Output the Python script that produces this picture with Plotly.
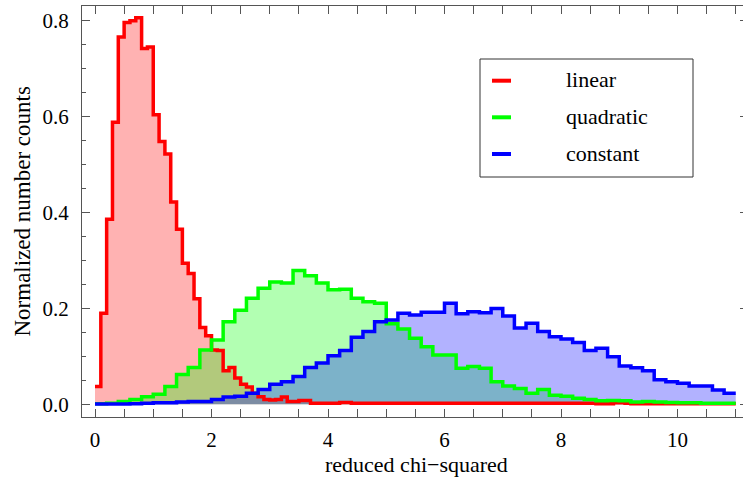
import numpy as np
import plotly.graph_objects as go

# ---------------- data ----------------
series_names = ["linear", "quadratic", "constant"]

linear_bin_width = 0.1
linear_counts = [
    0.037, 0.190, 0.386, 0.588, 0.766, 0.796, 0.800, 0.806, 0.742, 0.745,
    0.604, 0.548, 0.522, 0.422, 0.365, 0.294, 0.273, 0.220, 0.160, 0.143,
    0.113, 0.112, 0.070, 0.077, 0.055, 0.042, 0.036, 0.023, 0.016, 0.010,
    0.009, 0.010, 0.015, 0.006, 0.006, 0.008, 0.008, 0.002, 0.002, 0.002,
    0.002, 0.002, 0.004, 0.004, 0.002, 0.002, 0.002, 0.002, 0.002, 0.002,
    0.002, 0.002, 0.002, 0.002, 0.002, 0.002, 0.002, 0.002, 0.002, 0.002,
    0.002, 0.002, 0.002, 0.002, 0.002, 0.002, 0.002, 0.002, 0.002, 0.002,
    0.002, 0.002, 0.002, 0.002, 0.002, 0.002, 0.002, 0.002, 0.002, 0.002,
    0.002, 0.002, 0.002, 0.002, 0.002, 0.002, 0.001, 0.001, 0.001, 0.003,
    0.003, 0.002, 0.001, 0.001, 0.001, 0.001, 0.001, 0.001, 0.001, 0.001,
    0.001, 0.001, 0.001, 0.001, 0.001, 0.001, 0.001, 0.001, 0.001, 0.001,
]

quadratic_bin_width = 0.2
quadratic_counts = [
    0.001, 0.002, 0.006, 0.010, 0.016, 0.021, 0.037, 0.062, 0.077, 0.113,
    0.134, 0.172, 0.196, 0.221, 0.242, 0.255, 0.253, 0.279, 0.268, 0.253,
    0.239, 0.240, 0.221, 0.214, 0.211, 0.168, 0.157, 0.138, 0.120, 0.103,
    0.103, 0.075, 0.079, 0.075, 0.047, 0.038, 0.033, 0.023, 0.031, 0.019,
    0.017, 0.0125, 0.010, 0.0075, 0.008, 0.0075, 0.005, 0.006, 0.005, 0.004,
    0.003, 0.003, 0.002, 0.002, 0.002,
]

constant_bin_width = 0.2
constant_counts = [
    0.0005, 0.0005, 0.0005, 0.001, 0.002, 0.003, 0.003, 0.005, 0.006, 0.006,
    0.010, 0.015, 0.017, 0.023, 0.031, 0.042, 0.047, 0.058, 0.077, 0.086,
    0.101, 0.112, 0.140, 0.152, 0.172, 0.176, 0.190, 0.186, 0.192, 0.192,
    0.211, 0.189, 0.193, 0.191, 0.200, 0.184, 0.159, 0.169, 0.152, 0.141,
    0.136, 0.129, 0.112, 0.117, 0.099, 0.080, 0.076, 0.070, 0.051, 0.047,
    0.044, 0.038, 0.038, 0.030, 0.023,
]

x_tick_values = [0, 2, 4, 6, 8, 10]
x_tick_labels = ["0", "2", "4", "6", "8", "10"]
y_tick_values = [0.0, 0.2, 0.4, 0.6, 0.8]
y_tick_labels = ["0.0", "0.2", "0.4", "0.6", "0.8"]

x_title = "reduced chi\u2212squared"
y_title = "Normalized number counts"

# ---------------- styling ----------------
line_colors = ["rgb(255,0,0)", "rgb(0,255,0)", "rgb(0,0,255)"]
fill_colors = ["rgba(255,0,0,0.3)", "rgba(0,255,0,0.3)", "rgba(0,0,255,0.3)"]
FONT = "Liberation Serif"
FRAME = "#555555"

W, H = 743, 477
ML, MR, MT, MB = 82, 0, 6, 60
PW, PH = W - ML - MR, H - MT - MB


def paper(px, py):
    return (px - ML) / PW, (H - MB - py) / PH


def step_xy(counts, width):
    edges = np.arange(len(counts) + 1) * width
    xs = list(edges[:-1]) + [edges[-1]]
    ys = list(counts) + [counts[-1]]
    return xs, ys


series = [
    (linear_counts, linear_bin_width),
    (quadratic_counts, quadratic_bin_width),
    (constant_counts, constant_bin_width),
]

fig = go.Figure()

# fills first
for (counts, width), name, fc in zip(series, series_names, fill_colors):
    xs, ys = step_xy(counts, width)
    fig.add_trace(go.Scatter(
        x=xs, y=ys, mode="lines", name=name, showlegend=False,
        line=dict(width=0, shape="hv", color=fc),
        fill="tozeroy", fillcolor=fc, hoverinfo="skip",
    ))

# lines on top
for (counts, width), name, lc in zip(series, series_names, line_colors):
    xs, ys = step_xy(counts, width)
    fig.add_trace(go.Scatter(
        x=xs, y=ys, mode="lines", name=name, showlegend=False,
        line=dict(width=3.5, shape="hv", color=lc),
    ))

# axis ranges (px calibrated)
x_unit = 58.25
x0_px = 95.0
xmin = -(x0_px - ML) / x_unit
xmax = xmin + PW / x_unit
y_unit = 479.5
y0_px = 404.3
ymin = -((H - MB) - y0_px) / y_unit
ymax = ymin + PH / y_unit

fig.update_layout(
    width=W, height=H,
    margin=dict(l=ML, r=MR, t=MT, b=MB, pad=0),
    paper_bgcolor="white", plot_bgcolor="white",
    font=dict(family=FONT, size=21, color="black"),
    showlegend=False,
    xaxis=dict(
        range=[xmin, xmax], showgrid=False, zeroline=False,
        showline=True, linecolor=FRAME, linewidth=1, mirror="allticks",
        ticks="inside", ticklen=8, tickwidth=1, tickcolor=FRAME,
        tickvals=x_tick_values, ticktext=x_tick_labels,
        tickfont=dict(family=FONT, size=21, color="black"),
        ticklabelstandoff=4,
        minor=dict(dtick=0.5, tick0=0, ticks="inside", ticklen=5,
                   tickcolor=FRAME, tickwidth=1, showgrid=False),
    ),
    yaxis=dict(
        range=[ymin, ymax], showgrid=False, zeroline=False,
        showline=True, linecolor=FRAME, linewidth=1,
        ticks="inside", ticklen=8, tickwidth=1, tickcolor=FRAME,
        tickvals=y_tick_values, ticktext=y_tick_labels,
        tickfont=dict(family=FONT, size=21, color="black"),
        ticklabelstandoff=8,
        minor=dict(dtick=0.05, tick0=0, ticks="inside", ticklen=4,
                   tickcolor=FRAME, tickwidth=1, showgrid=False),
    ),
    yaxis2=dict(
        overlaying="y", side="right", matches="y", range=[ymin, ymax],
        showgrid=False, zeroline=False, showline=False,
        ticks="inside", ticklen=3, tickwidth=1, tickcolor=FRAME,
        tickvals=y_tick_values, showticklabels=False,
    ),
)

# invisible trace to activate right-side ticks
fig.add_trace(go.Scatter(x=[None], y=[None], yaxis="y2", showlegend=False,
                         hoverinfo="skip"))

# axis titles
tx, ty = paper(417, 464.5)
fig.add_annotation(text=x_title, xref="paper", yref="paper", x=tx, y=ty,
                   xanchor="center", yanchor="middle", showarrow=False,
                   borderpad=0,
                   font=dict(family=FONT, size=22, color="black"))
tx, ty = paper(22, 211.5)
fig.add_annotation(text=y_title, xref="paper", yref="paper", x=tx, y=ty,
                   xanchor="center", yanchor="middle", showarrow=False,
                   textangle=-90, borderpad=0,
                   font=dict(family=FONT, size=23, color="black"))

# legend box (manual, Mathematica-style)
bx0, by0 = paper(480, 59)
bx1, by1 = paper(693, 177)
fig.add_shape(type="rect", xref="paper", yref="paper", x0=bx0, y0=by1,
              x1=bx1, y1=by0, line=dict(color="#333333", width=1),
              fillcolor="white", layer="above")
row_y = [80.7, 117.3, 154.0]
for name, lc, ry in zip(series_names, line_colors, row_y):
    lx0, ly = paper(492, ry)
    lx1, _ = paper(511, ry)
    fig.add_shape(type="line", xref="paper", yref="paper", x0=lx0, y0=ly,
                  x1=lx1, y1=ly, line=dict(color=lc, width=4), layer="above")
    tx, ty = paper(564, ry - 1)
    fig.add_annotation(text=name, xref="paper", yref="paper", x=tx, y=ty,
                       xanchor="left", yanchor="middle", showarrow=False,
                       font=dict(family=FONT, size=22, color="black"))

fig.write_html(
    "out.html",
    config={"displayModeBar": False},
    post_script="document.body.style.margin='0';document.body.style.overflow='hidden';",
)
